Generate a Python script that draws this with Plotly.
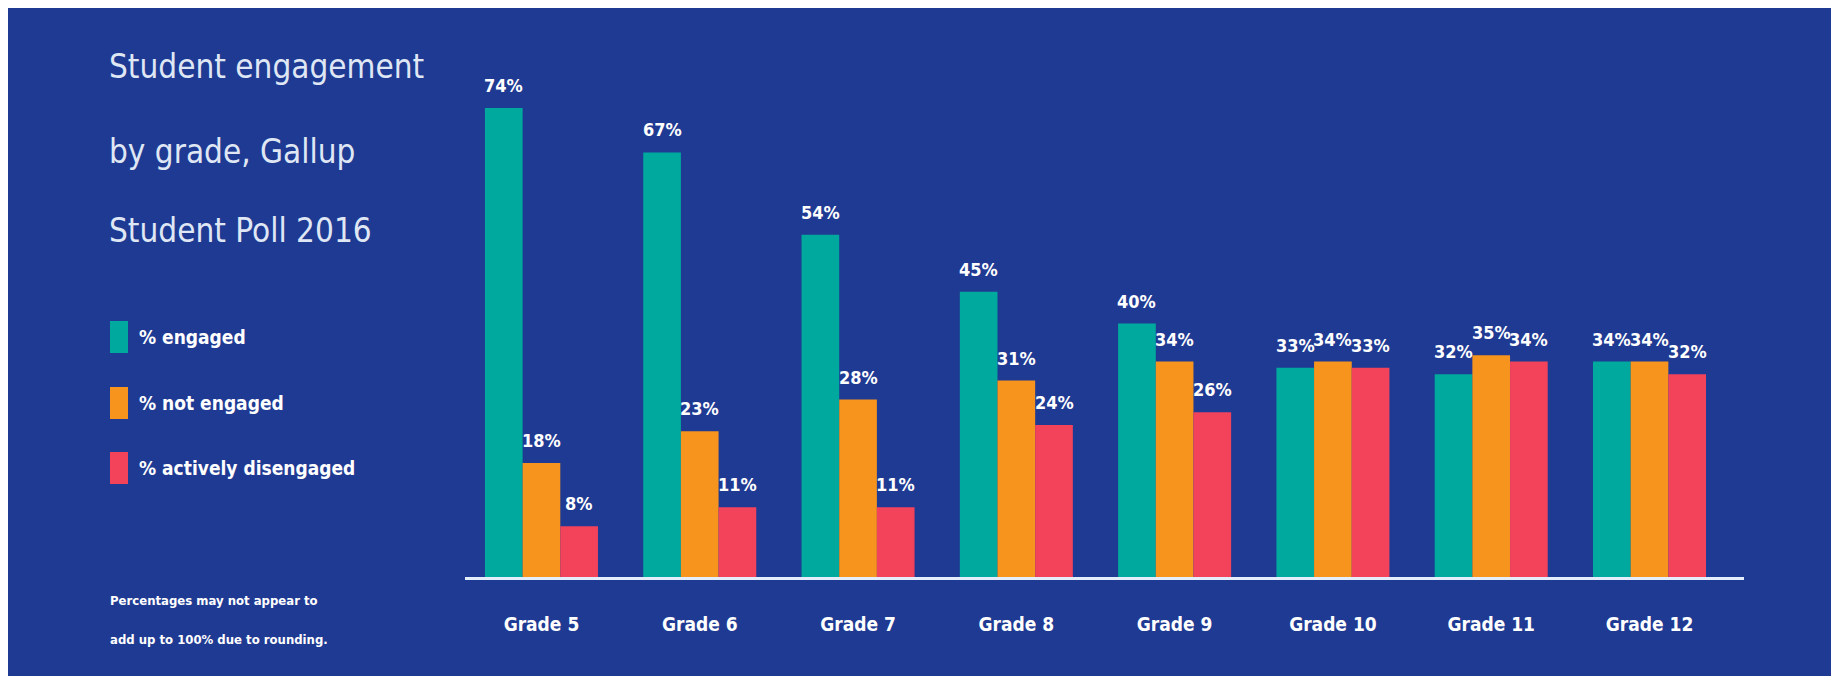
import plotly.graph_objects as go

# ---------------- data ----------------
grades = ["Grade 5", "Grade 6", "Grade 7", "Grade 8", "Grade 9", "Grade 10", "Grade 11", "Grade 12"]
engaged = [74, 67, 54, 45, 40, 33, 32, 34]
not_engaged = [18, 23, 28, 31, 34, 34, 35, 34]
actively_disengaged = [8, 11, 11, 24, 26, 33, 34, 32]
series_names = ["% engaged", "% not engaged", "% actively disengaged"]
title_lines = ["Student engagement", "by grade, Gallup", "Student Poll 2016"]
footnote_lines = ["Percentages may not appear to", "add up to 100% due to rounding."]

# ---------------- style ----------------
W, H = 1839, 676
ML, MR, MT, MB = 457, 103, 62, 107
OFF = 8  # page offset of the figure in the screenshot
BG = "#1f3a93"
COLORS = ["#00a99d", "#f7941d", "#f2435b"]
FONT = "DejaVu Sans Condensed, Liberation Sans Narrow, sans-serif"
BARGAP = 0.286


def paper(x, y):
    """screenshot pixel position -> paper coordinates (for decorations only)"""
    x, y = x - OFF, y - OFF
    return (x - ML) / (W - ML - MR), (H - MB - y) / (H - MT - MB)


xs = list(range(len(grades)))
all_series = [engaged, not_engaged, actively_disengaged]

fig = go.Figure()
for name, vals, col in zip(series_names, all_series, COLORS):
    fig.add_trace(go.Bar(x=xs, y=vals, name=name, marker=dict(color=col, line=dict(width=0)),
                         showlegend=False, hoverinfo="name+y"))

annotations = []
bar_w = (1 - BARGAP) / len(all_series)
for j, vals in enumerate(all_series):
    for i, v in zip(xs, vals):
        annotations.append(dict(
            x=i + (j - (len(all_series) - 1) / 2) * bar_w, y=v, xref="x", yref="y",
            text=f"<b>{v}%</b>", showarrow=False, yanchor="bottom", yshift=10,
            font=dict(family=FONT, size=18, color="#ffffff")))

# title
for line, yc in zip(title_lines, [67, 151, 231]):
    px_, py_ = paper(107, yc)
    annotations.append(dict(x=px_, y=py_, xref="paper", yref="paper", text=line, showarrow=False,
                            xanchor="left", yanchor="middle",
                            font=dict(family=FONT, size=33, color="#dfe7f5")))

# legend (decoration)
shapes = []
for name, col, yc in zip(series_names, COLORS, [337, 403, 468]):
    x0, y0 = paper(110, yc - 16)
    x1, y1 = paper(128, yc + 16)
    shapes.append(dict(type="rect", xref="paper", yref="paper", x0=x0, x1=x1, y0=y1, y1=y0,
                       fillcolor=col, line=dict(width=0)))
    tx, ty = paper(137, yc)
    annotations.append(dict(x=tx, y=ty, xref="paper", yref="paper", text=f"<b>{name}</b>",
                            showarrow=False, xanchor="left", yanchor="middle",
                            font=dict(family=FONT, size=19, color="#ffffff")))

# footnote
for line, yc in zip(footnote_lines, [600, 639]):
    fx, fy = paper(108, yc)
    annotations.append(dict(x=fx, y=fy, xref="paper", yref="paper", text=f"<b>{line}</b>",
                            showarrow=False, xanchor="left", yanchor="middle",
                            font=dict(family=FONT, size=13, color="#ffffff")))

fig.update_layout(
    width=W, height=H,
    margin=dict(l=ML, r=MR, t=MT, b=MB, pad=0),
    paper_bgcolor=BG, plot_bgcolor=BG,
    barmode="group", bargap=BARGAP, bargroupgap=0,
    annotations=annotations, shapes=shapes,
    xaxis=dict(range=[-0.483, 7.597], tickvals=xs, ticktext=[f"<b>{g}</b>" for g in grades],
               showgrid=False, zeroline=False, showline=True, linecolor="#e4edfb", linewidth=3,
               ticks="", ticklabelstandoff=28,
               tickfont=dict(family=FONT, size=19, color="#ffffff")),
    yaxis=dict(range=[0, 80], visible=False, showgrid=False, zeroline=False),
)

fig.write_html("out.html")
